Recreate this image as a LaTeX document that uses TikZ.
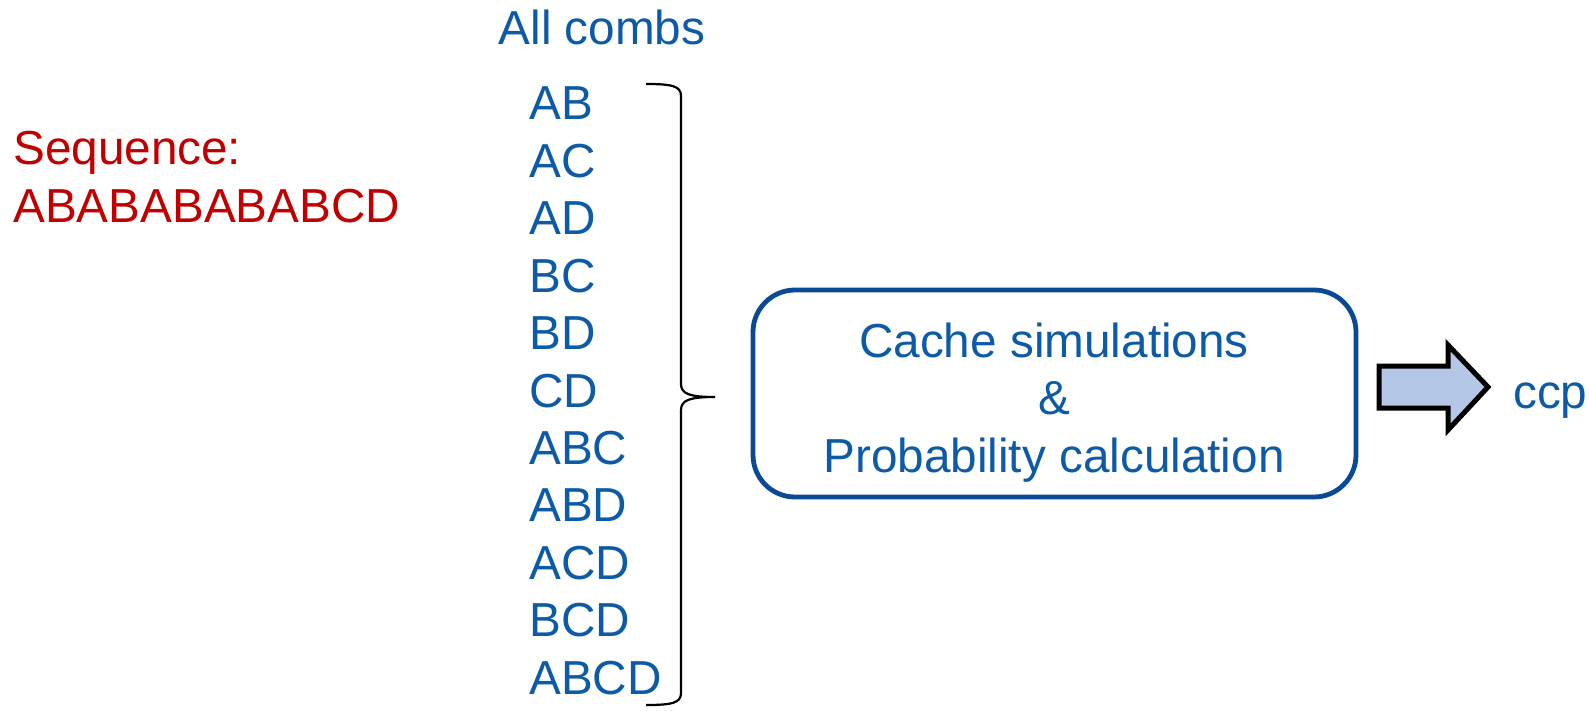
\documentclass[tikz,border=0pt]{standalone}
\usepackage{fontspec}
\setmainfont{Liberation Sans}
\definecolor{txtblue}{HTML}{0D5AA7}
\definecolor{boxblue}{HTML}{0A4A94}
\definecolor{seqred}{HTML}{C00000}
\definecolor{arrfill}{HTML}{B4C7E7}
\begin{document}
\begin{tikzpicture}[x=1pt,y=-1pt,
  lbl/.style={inner sep=0pt,font=\fontsize{47.7}{57}\selectfont},
  comb/.style={lbl,text=txtblue,anchor=base west},
  seq/.style={lbl,text=seqred,anchor=base west}]
\useasboundingbox (0,0) rectangle (1589,711);
% sequence
\node[seq] (s1) at (13,165) {Sequence:};
\node[seq] (s2) at (13,223) {ABABABABABCD};
% header
\node[lbl,text=txtblue,anchor=base] (hdr) at (602,45) {All combs};
% combinations
\foreach \t [count=\i from 0] in {AB,AC,AD,BC,BD,CD,ABC,ABD,ACD,BCD,ABCD}{
  \node[comb] (c\i) at (529,{120+57.4*\i}) {\t};
}
% brace
\coordinate (btop) at (646,84);
\coordinate (btip) at (715,397);
\coordinate (bbot) at (646,705);
\draw[line width=2.2pt,black]
  (btop) .. controls (672,84) and (681,86) .. (681,96)
  -- (681,384) .. controls (681,394) and (690,397) .. (btip)
  (btip) .. controls (690,397) and (681,400) .. (681,410)
  -- (681,693) .. controls (681,703) and (672,705) .. (bbot);
% process box
\node[draw=boxblue,line width=4.8pt,rounded corners=42pt,minimum width=603pt,minimum height=207pt,inner sep=0pt] (box) at (1054.5,393.5) {};
\node[lbl,text=txtblue,anchor=base] (b1) at (1054,357) {Cache simulations};
\node[lbl,text=txtblue,anchor=base] (b2) at (1054,414) {\&};
\node[lbl,text=txtblue,anchor=base] (b3) at (1054,472) {Probability calculation};
% block arrow
\draw[line width=5pt,fill=arrfill,line join=miter]
  (1379,366) -- (1448,366) -- (1448,345) -- (1488,387) -- (1448,430) -- (1448,408) -- (1379,408) -- cycle;
\coordinate (arrtip) at (1488,387);
% output
\node[lbl,text=txtblue,anchor=base west] (ccp) at (1513,408) {ccp};
\end{tikzpicture}
\end{document}
